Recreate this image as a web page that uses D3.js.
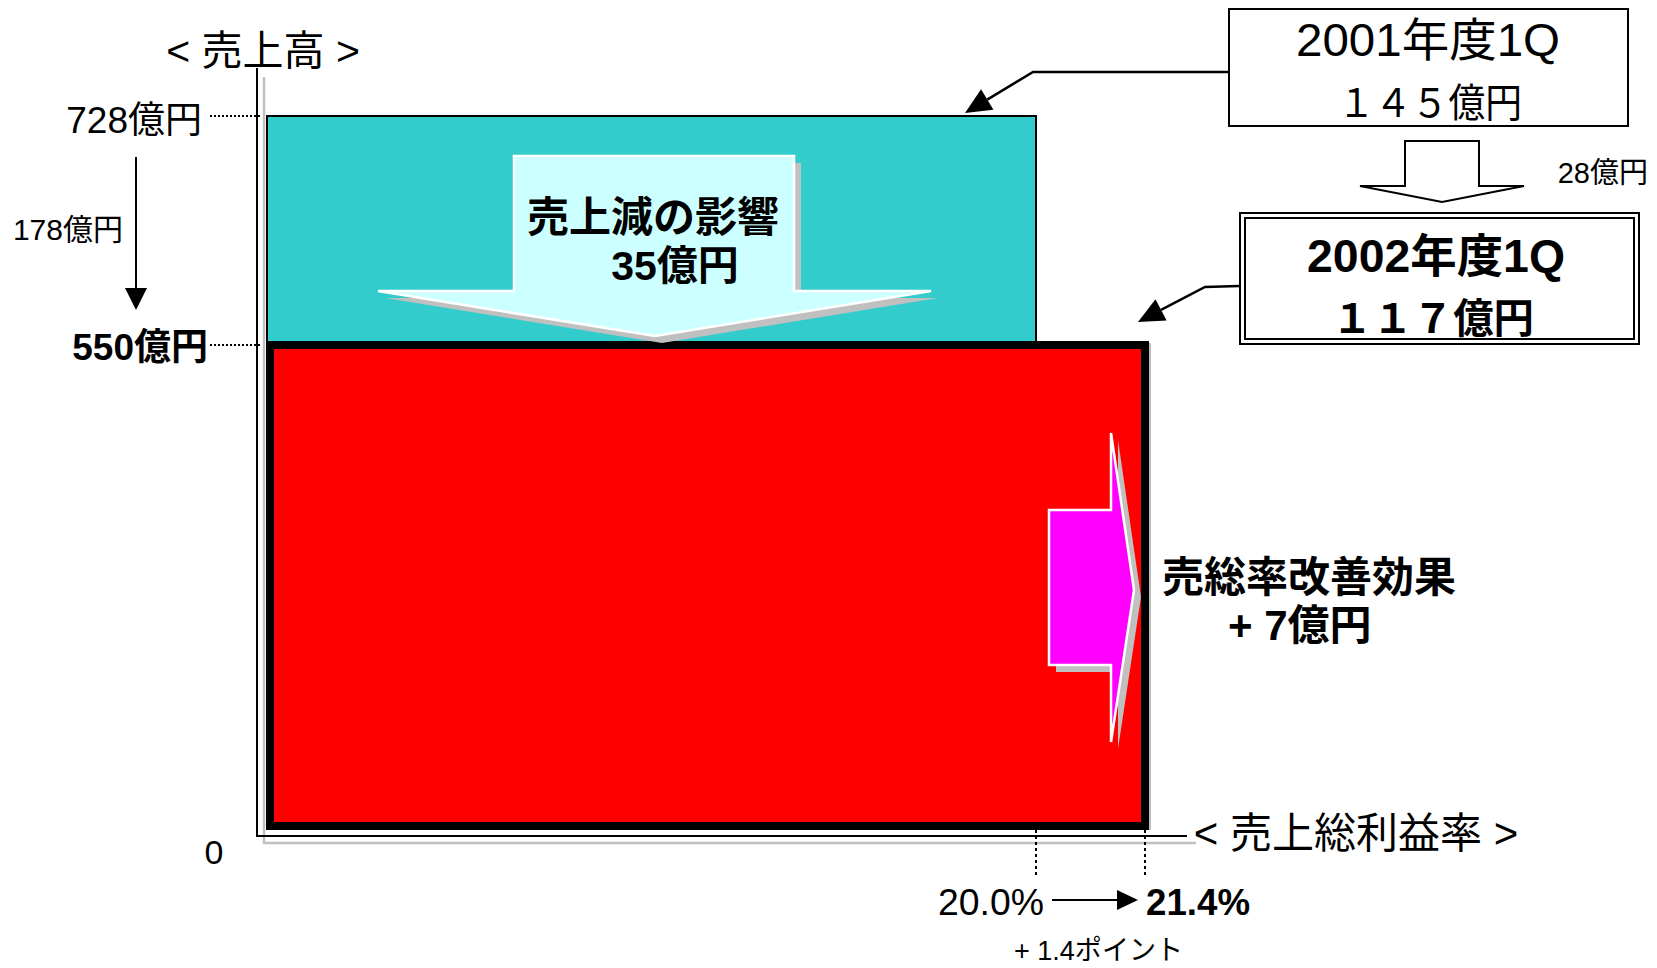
<!DOCTYPE html>
<html>
<head>
<meta charset="utf-8">
<script src="https://cdn.jsdelivr.net/npm/d3@7"></script>
<style>
  html, body { margin: 0; padding: 0; background: #fff; }
  svg { display: block; }
  text { font-family: "Liberation Sans", "Noto Sans CJK JP", sans-serif; fill: #000; }
</style>
</head>
<body>
<svg id="chart" width="1657" height="968"></svg>
<script>
// ---- data (億円, %) ----
const periods      = ["2001年度1Q", "2002年度1Q"];
const sales        = [728, 550];          // 売上高
const grossMargin  = [20.0, 21.4];        // 売上総利益率
const grossProfit  = [145, 117];          // 売上総利益
const salesEffect  = 35;                  // 売上減の影響
const marginEffect = 7;                   // 売総率改善効果
const salesTicks   = [0, 550, 728];
const marginTicks  = [0, 20.0, 21.4];

// ---- helpers ----
const svg = d3.select("#chart");
const toWide = s => String(s).replace(/[0-9]/g, c => String.fromCharCode(c.charCodeAt(0) + 0xFEE0));
const fmt1 = d3.format(".1f");

// schematic (piecewise) scales: area = sales x margin
const x = d3.scaleLinear().domain(marginTicks).range([267, 1036, 1145]);
const y = d3.scaleLinear().domain(salesTicks).range([826, 345, 116]);

const GRAY = "#c0c0c0";

function label(t, px, py, size, opts = {}) {
  const el = svg.append("text")
    .attr("x", px).attr("y", py)
    .attr("font-size", size)
    .attr("font-weight", opts.bold ? "bold" : "normal")
    .attr("text-anchor", opts.anchor || "start")
    .text(t);
  if (opts.len) el.attr("textLength", opts.len).attr("lengthAdjust", "spacingAndGlyphs");
  return el;
}

function arrowHead(tipX, tipY, fromX, fromY, len, half) {
  const a = Math.atan2(tipY - fromY, tipX - fromX);
  const bx = tipX - len * Math.cos(a), by = tipY - len * Math.sin(a);
  const px = -Math.sin(a) * half, py = Math.cos(a) * half;
  return [[tipX, tipY], [bx + px, by + py], [bx - px, by - py]];
}
const line = d3.line();

// ---- axes with drop shadow ----
const axTop = 68, axRight = 1187;
const ax0 = x(0) - 10, ay0 = y(0) + 10;
svg.append("path").attr("d", line([[ax0 + 7, axTop + 9], [ax0 + 7, ay0 + 7], [axRight + 9, ay0 + 7]]))
  .attr("fill", "none").attr("stroke", GRAY).attr("stroke-width", 2.5);
svg.append("path").attr("d", line([[ax0, axTop], [ax0, ay0], [axRight, ay0]]))
  .attr("fill", "none").attr("stroke", "#000").attr("stroke-width", 2);

// ---- 2001: sales x margin (cyan) ----
svg.append("rect")
  .attr("x", x(0)).attr("y", y(sales[0]))
  .attr("width", x(grossMargin[0]) - x(0))
  .attr("height", y(sales[1]) - y(sales[0]))
  .attr("fill", "#33cccc").attr("stroke", "#000").attr("stroke-width", 2);

// ---- 2002: sales x margin (red, heavy border) ----
svg.append("rect")
  .attr("x", x(0) + 3).attr("y", y(sales[1]))
  .attr("width", x(grossMargin[1]) - x(0) - 3)
  .attr("height", y(0) - y(sales[1]))
  .attr("fill", "#ff0000").attr("stroke", "#000").attr("stroke-width", 8);
svg.append("line")
  .attr("x1", x(grossMargin[1]) + 5).attr("x2", x(grossMargin[1]) + 5)
  .attr("y1", y(sales[1]) - 2).attr("y2", y(0) + 4)
  .attr("stroke", GRAY).attr("stroke-width", 2);

// ---- dotted guides ----
sales.forEach(v => {
  svg.append("line").attr("x1", 210).attr("x2", ax0 + 4).attr("y1", y(v)).attr("y2", y(v))
    .attr("stroke", "#000").attr("stroke-width", 2).attr("stroke-dasharray", "2,2");
});
grossMargin.forEach(v => {
  svg.append("line").attr("x1", x(v)).attr("x2", x(v)).attr("y1", y(0) + 4).attr("y2", 878)
    .attr("stroke", "#000").attr("stroke-width", 2).attr("stroke-dasharray", "3,3");
});

// ---- block arrows (with gray shadow, white outline) ----
function blockArrow(pts, fill, dx, dy) {
  svg.append("path").attr("d", line(pts.map(p => [p[0] + dx, p[1] + dy])) + "Z").attr("fill", GRAY);
  svg.append("path").attr("d", line(pts) + "Z").attr("fill", fill)
    .attr("stroke", "#fff").attr("stroke-width", 2.5).attr("stroke-linejoin", "miter");
}
// 売上減の影響 (down)
blockArrow([[514, 156], [794, 156], [794, 291], [931, 291], [655, y(sales[1]) - 9],
            [378, 291], [514, 291]], "#ccffff", 7, 7);
// 売総率改善効果 (right)
blockArrow([[1049, 510], [1111, 510], [1111, 433], [1134, 590], [1111, 742],
            [1111, 665], [1049, 665]], "#ff00ff", 7, 7);

// ---- axis titles & tick labels ----
label("< 売上高 >", 263, 65, 41, { anchor: "middle" });
label("< 売上総利益率 >", 1356, 848, 42, { anchor: "middle" });
label("0", 214, 864, 34, { anchor: "middle" });

label(`${sales[0]}億円`, 202, 133, 37, { anchor: "end" });
label(`${sales[1]}億円`, 208, 360, 37, { anchor: "end", bold: true });
label(`${sales[0] - sales[1]}億円`, 123, 240, 30, { anchor: "end" });

// 178 down arrow
svg.append("line").attr("x1", 136).attr("x2", 136).attr("y1", 157).attr("y2", 292)
  .attr("stroke", "#000").attr("stroke-width", 2);
svg.append("path").attr("d", line(arrowHead(136, 310, 136, 157, 22, 11)) + "Z").attr("fill", "#000");

label(`${fmt1(grossMargin[0])}%`, 1044, 915, 36, { anchor: "end", len: 106 });
label(`${fmt1(grossMargin[1])}%`, 1146, 915, 36, { bold: true, len: 104 });
svg.append("line").attr("x1", 1052).attr("x2", 1120).attr("y1", 900).attr("y2", 900)
  .attr("stroke", "#000").attr("stroke-width", 2);
svg.append("path").attr("d", line(arrowHead(1138, 900, 1052, 900, 21, 10)) + "Z").attr("fill", "#000");
label(`+ ${fmt1(grossMargin[1] - grossMargin[0])}ポイント`, 1014, 960, 28, { len: 169 });

// ---- arrow captions ----
label("売上減の影響", 653, 232, 42, { anchor: "middle", bold: true });
label(`${salesEffect}億円`, 675, 280, 41, { anchor: "middle", bold: true });
label("売総率改善効果", 1162, 592, 42, { bold: true });
label(`+ ${marginEffect}億円`, 1228, 640, 42, { bold: true });

// ---- gross profit boxes ----
svg.append("rect").attr("x", 1229).attr("y", 9).attr("width", 399).attr("height", 117)
  .attr("fill", "#fff").attr("stroke", "#000").attr("stroke-width", 2);
label(periods[0], 1428, 56, 46, { anchor: "middle", len: 264 });
label(`${toWide(grossProfit[0])}億円`, 1430, 117, 40, { anchor: "middle", len: 184 });

svg.append("rect").attr("x", 1240).attr("y", 213).attr("width", 399).attr("height", 131)
  .attr("fill", "#fff").attr("stroke", "#000").attr("stroke-width", 2);
svg.append("rect").attr("x", 1245).attr("y", 218).attr("width", 389).attr("height", 121)
  .attr("fill", "none").attr("stroke", "#000").attr("stroke-width", 2);
label(periods[1], 1436, 272, 46, { anchor: "middle", bold: true, len: 258 });
label(`${toWide(grossProfit[1])}億円`, 1433, 333, 41, { anchor: "middle", bold: true, len: 202 });

// hollow arrow between boxes
svg.append("path")
  .attr("d", line([[1405, 141], [1479, 141], [1479, 186], [1524, 186], [1442, 202],
                   [1360, 186], [1405, 186]]) + "Z")
  .attr("fill", "#fff").attr("stroke", "#000").attr("stroke-width", 2);
label(`${grossProfit[0] - grossProfit[1]}億円`, 1648, 183, 29, { anchor: "end" });

// callout leaders to each area
function leader(pts) {
  const n = pts.length, tip = pts[n - 1], prev = pts[n - 2];
  const head = arrowHead(tip[0], tip[1], prev[0], prev[1], 26, 12);
  const base = [(head[1][0] + head[2][0]) / 2, (head[1][1] + head[2][1]) / 2];
  svg.append("path").attr("d", line(pts.slice(0, n - 1).concat([base])))
    .attr("fill", "none").attr("stroke", "#000").attr("stroke-width", 2.5);
  svg.append("path").attr("d", line(head) + "Z").attr("fill", "#000");
}
leader([[1229, 72], [1033, 72], [965, 113]]);
leader([[1239, 286], [1205, 287], [1138, 322]]);
</script>
</body>
</html>
